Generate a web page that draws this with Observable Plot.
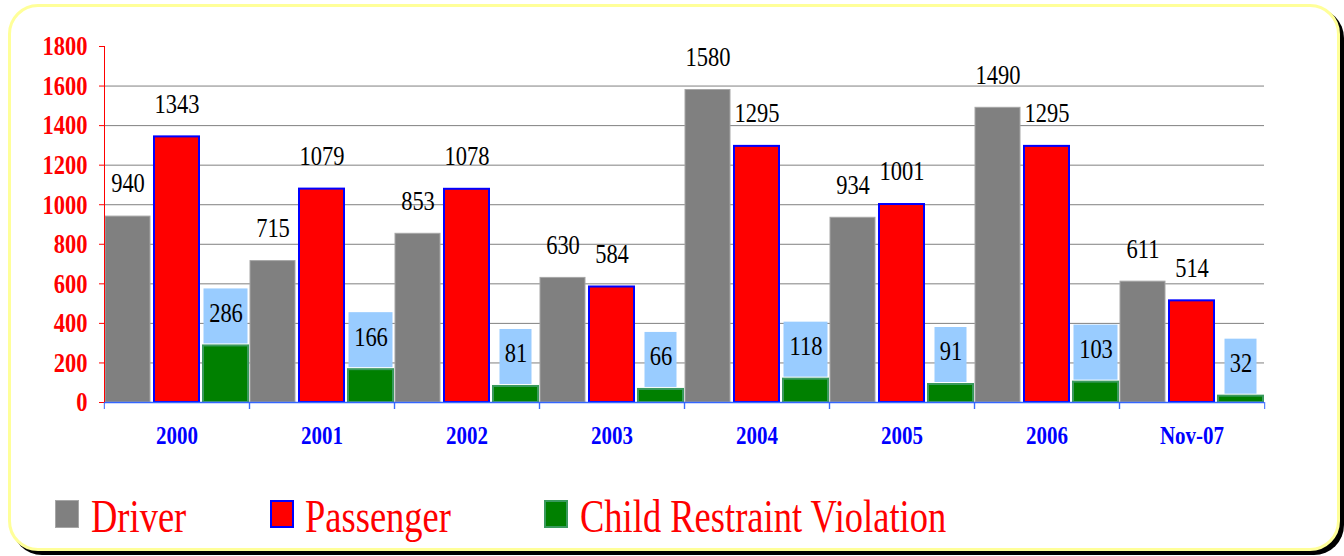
<!DOCTYPE html>
<html><head><meta charset="utf-8">
<script src="https://cdn.jsdelivr.net/npm/d3@7"></script>
<script src="https://cdn.jsdelivr.net/npm/@observablehq/plot@0.6"></script>
<style>
html,body{margin:0;padding:0;background:#fff;overflow:hidden;}
#wrap{position:relative;width:1344px;height:556px;overflow:hidden;font-family:"Liberation Serif","Times New Roman",serif;}
#frame{position:absolute;left:8px;top:4px;width:1326px;height:541px;border:3px solid #ffff99;border-radius:30px;box-shadow:4px 4px 0 #000;background:#fff;}
#chart{position:absolute;left:0;top:0;}
.lg{position:absolute;top:500px;height:28px;width:24px;box-sizing:border-box;}
.lt{position:absolute;top:497px;font-size:36.5px;color:#ff0000;line-height:40px;transform:scaleY(1.26);transform-origin:center;white-space:nowrap;}
</style>
</head><body>
<div id="wrap">
  <div id="frame"></div>
  <div id="chart"></div>
  <div id="legend"></div>
</div>
<script>
const years = ["2000","2001","2002","2003","2004","2005","2006","Nov-07"];
const seriesNames = ["Driver","Passenger","Child Restraint Violation"];
const driver = [940,715,853,630,1580,934,1490,611];
const passenger = [1343,1079,1078,584,1295,1001,1295,514];
const child = [286,166,81,66,118,91,103,32];
const yTicks = [0,200,400,600,800,1000,1200,1400,1600,1800];

const fills = {"Driver":"#808080","Passenger":"#ff0000","Child Restraint Violation":"#008000"};
const strokes = {"Driver":"#a6a6a6","Passenger":"#0000ff","Child Restraint Violation":"#3a9a5e"};

const rows = (name, vals) => years.map((yr, i) => ({year: yr, series: name, value: vals[i]}));
const dDriver = rows("Driver", driver);
const dPass = rows("Passenger", passenger);
const dChild = rows("Child Restraint Violation", child);

const font = "Liberation Serif";
const step = (1344 - 102 - 79) / years.length;

const chart = Plot.plot({
  width: 1344, height: 460,
  marginLeft: 102, marginRight: 79, marginTop: 46, marginBottom: 58,
  style: {background: "transparent", fontFamily: font},
  fx: {domain: years, padding: 0, label: null},
  x: {domain: seriesNames, paddingInner: 0.08, paddingOuter: 0, axis: null},
  y: {domain: [0, 1800], axis: null, label: null},
  marks: [
    Plot.gridY(yTicks.filter(t => t > 0 && t < 1800), {stroke: "#808080", strokeOpacity: 1, strokeWidth: 1}),
    Plot.barY(dDriver, {fx: "year", x: "series", y: "value", fill: fills["Driver"], stroke: strokes["Driver"], strokeWidth: 1}),
    Plot.barY(dPass, {fx: "year", x: "series", y: "value", fill: fills["Passenger"], stroke: strokes["Passenger"], strokeWidth: 2}),
    Plot.barY(dChild.filter(d => d.value >= 100), {fx: "year", x: "series", y1: "value", y2: "value", insetTop: -57, insetBottom: 2, insetLeft: 0.5, insetRight: 0.5, fill: "#99ccff"}),
    Plot.barY(dChild.filter(d => d.value < 100), {fx: "year", x: "series", y1: "value", y2: "value", insetTop: -57, insetBottom: 2, insetLeft: 6.5, insetRight: 6.5, fill: "#99ccff"}),
    Plot.barY(dChild, {fx: "year", x: "series", y: "value", fill: fills["Child Restraint Violation"], stroke: strokes["Child Restraint Violation"], strokeWidth: 2}),
    Plot.text(dDriver, {fx: "year", x: "series", y: "value", text: d => String(d.value), dy: -33, fontSize: 22.5, fill: "#000"}),
    Plot.text(dPass, {fx: "year", x: "series", y: "value", text: d => String(d.value), dy: -33, fontSize: 22.5, fill: "#000"}),
    Plot.text(dChild, {fx: "year", x: "series", y: "value", text: d => String(d.value), dy: -33, fontSize: 22.5, fill: "#000"}),
    Plot.ruleY([0], {stroke: "#3366ff", strokeWidth: 1.5}),
    Plot.frame({anchor: "left", stroke: "#ff0000", strokeOpacity: 1, facetAnchor: "left"}),
    Plot.axisY({ticks: yTicks, anchor: "left", label: null, tickSize: 5, tickPadding: 12, stroke: "#ff0000", fill: "#ff0000", fontWeight: "bold", fontSize: 22.5, tickFormat: d => String(d)}),
    Plot.axisFx({anchor: "bottom", tickSize: 7, dx: -step / 2, stroke: "#3366ff", fill: "none", label: null}),
    Plot.axisFx({anchor: "bottom", tickSize: 7, dx: step / 2, stroke: "#3366ff", fill: "none", label: null}),
    Plot.axisFx({anchor: "bottom", tickSize: 0, tickPadding: 25, fill: "#0000ff", fontWeight: "bold", fontSize: 21, label: null})
  ]
});
document.getElementById("chart").appendChild(chart);

// stretch text vertically around its own centre (the reference's type is taller than wide)
chart.querySelectorAll("text").forEach(el => {
  const b = el.getBBox();
  const cy = b.y + b.height / 2;
  const t = el.getAttribute("transform") || "";
  el.setAttribute("transform", `${t} translate(0,${cy}) scale(1,1.22) translate(0,${-cy})`);
});

// legend
const legend = document.getElementById("legend");
const legendItems = [
  {name: "Driver", sx: 55, tx: 91},
  {name: "Passenger", sx: 270, tx: 305},
  {name: "Child Restraint Violation", sx: 544, tx: 580}
];
legendItems.forEach(it => {
  const sw = document.createElement("div");
  sw.className = "lg";
  sw.style.left = it.sx + "px";
  sw.style.background = fills[it.name];
  sw.style.border = it.name === "Driver" ? "1px solid #a6a6a6" : `2px solid ${strokes[it.name]}`;
  legend.appendChild(sw);
  const t = document.createElement("div");
  t.className = "lt";
  t.style.left = it.tx + "px";
  t.textContent = it.name;
  legend.appendChild(t);
});
</script>
</body></html>
